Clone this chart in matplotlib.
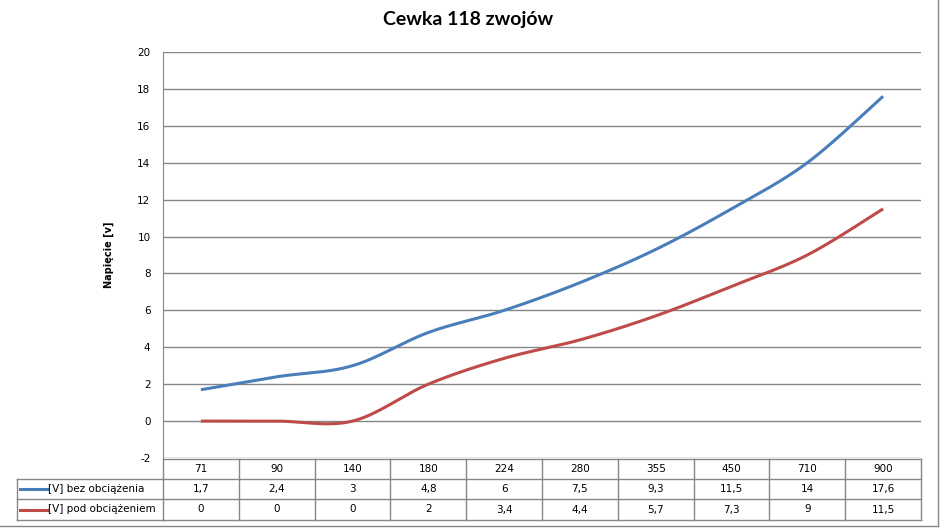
import matplotlib.pyplot as plt
import matplotlib.transforms as mtransforms
import numpy as np

plt.rcParams["axes.unicode_minus"] = False

# data
categories = ["71", "90", "140", "180", "224", "280", "355", "450", "710", "900"]
bez_obc = [1.7, 2.4, 3, 4.8, 6, 7.5, 9.3, 11.5, 14, 17.6]
pod_obc = [0, 0, 0, 2, 3.4, 4.4, 5.7, 7.3, 9, 11.5]
series_names = ["[V] bez obciążenia", "[V] pod obciążeniem"]
colors = ["#4A7EBB", "#BE4B48"]

W, H = 941, 528
grid_col = "#868686"


def smooth(xs, ys, n=40):
    # Excel-like bezier smoothing (catmull-rom control points)
    xs = np.asarray(xs, float)
    ys = np.asarray(ys, float)
    px, py = [], []
    t = np.linspace(0, 1, n)
    for i in range(len(xs) - 1):
        i0 = max(i - 1, 0)
        i3 = min(i + 2, len(xs) - 1)
        c1x = xs[i] + (xs[i + 1] - xs[i0]) / 6
        c1y = ys[i] + (ys[i + 1] - ys[i0]) / 6
        c2x = xs[i + 1] - (xs[i3] - xs[i]) / 6
        c2y = ys[i + 1] - (ys[i3] - ys[i]) / 6
        bx = (1 - t) ** 3 * xs[i] + 3 * (1 - t) ** 2 * t * c1x + 3 * (1 - t) * t ** 2 * c2x + t ** 3 * xs[i + 1]
        by = (1 - t) ** 3 * ys[i] + 3 * (1 - t) ** 2 * t * c1y + 3 * (1 - t) * t ** 2 * c2y + t ** 3 * ys[i + 1]
        px.extend(bx)
        py.extend(by)
    return np.array(px), np.array(py)


fig = plt.figure(figsize=(W / 100, H / 100), dpi=100)
ax = fig.add_axes([163 / W, (H - 458) / H, (921 - 163) / W, (458 - 52) / H])

x = np.arange(len(categories))
for vals, col in zip([bez_obc, pod_obc], colors):
    sx, sy = smooth(x, vals)
    ax.plot(sx, sy, color=col, lw=2.2, solid_capstyle="butt", zorder=3)

ax.set_xlim(-0.5, len(categories) - 0.5)
ax.set_ylim(-2, 20)
ax.set_yticks(np.arange(-2, 21, 2))
ax.set_xticks([])
ax.grid(axis="y", color=grid_col, lw=1)
ax.set_axisbelow(True)
for s in ["top", "right", "bottom"]:
    ax.spines[s].set_visible(False)
ax.spines["left"].set_color(grid_col)
ax.tick_params(axis="y", length=0, pad=9, labelsize=7.5, colors="black")
ax.set_ylabel("Napięcie [v]", fontsize=7, fontweight="bold", labelpad=17)

fig.text(468 / W, 1 - 20 / H, "Cewka 118 zwojów", ha="center", va="center",
         fontsize=14, fontweight="bold", family="Lato")

# data table below the plot
tr = mtransforms.blended_transform_factory(ax.transData, fig.transFigure)
rows_px = [459, 479, 499, 520]
fy = lambda p: 1 - p / H
x0, x1 = -0.5, len(categories) - 0.5
for p in rows_px:
    ax.plot([x0, x1], [fy(p)] * 2, transform=tr, color=grid_col, lw=1, clip_on=False)
for xi in np.arange(x0, x1 + 0.01, 1):
    ax.plot([xi, xi], [fy(rows_px[0]), fy(rows_px[-1])], transform=tr,
            color=grid_col, lw=1, clip_on=False)

# legend key cells
for p in rows_px[1:]:
    fig.add_artist(plt.Line2D([17 / W, 163 / W], [fy(p)] * 2, color=grid_col, lw=1))
fig.add_artist(plt.Line2D([17 / W, 17 / W], [fy(rows_px[1]), fy(rows_px[-1])], color=grid_col, lw=1))

row_vals = [bez_obc, pod_obc]
for j, c in enumerate(categories):
    ax.text(j, fy((rows_px[0] + rows_px[1]) / 2), c, transform=tr, ha="center",
            va="center", fontsize=7.5)
for r, (vals, name, col) in enumerate(zip(row_vals, series_names, colors)):
    yc = fy((rows_px[r + 1] + rows_px[r + 2]) / 2)
    for j, v in enumerate(vals):
        ax.text(j, yc, f"{v:g}".replace(".", ","), transform=tr, ha="center",
                va="center", fontsize=7.5)
    fig.add_artist(plt.Line2D([20 / W, 47 / W], [yc, yc], color=col, lw=2.2))
    fig.text(48 / W, yc, name, ha="left", va="center", fontsize=7.5)

# chart area border (right and bottom visible)
fig.add_artist(plt.Line2D([0, 938 / W], [fy(526)] * 2, color=grid_col, lw=1))
fig.add_artist(plt.Line2D([938 / W, 938 / W], [fy(526), 1], color=grid_col, lw=1))

fig.savefig("out.png", dpi=100)
